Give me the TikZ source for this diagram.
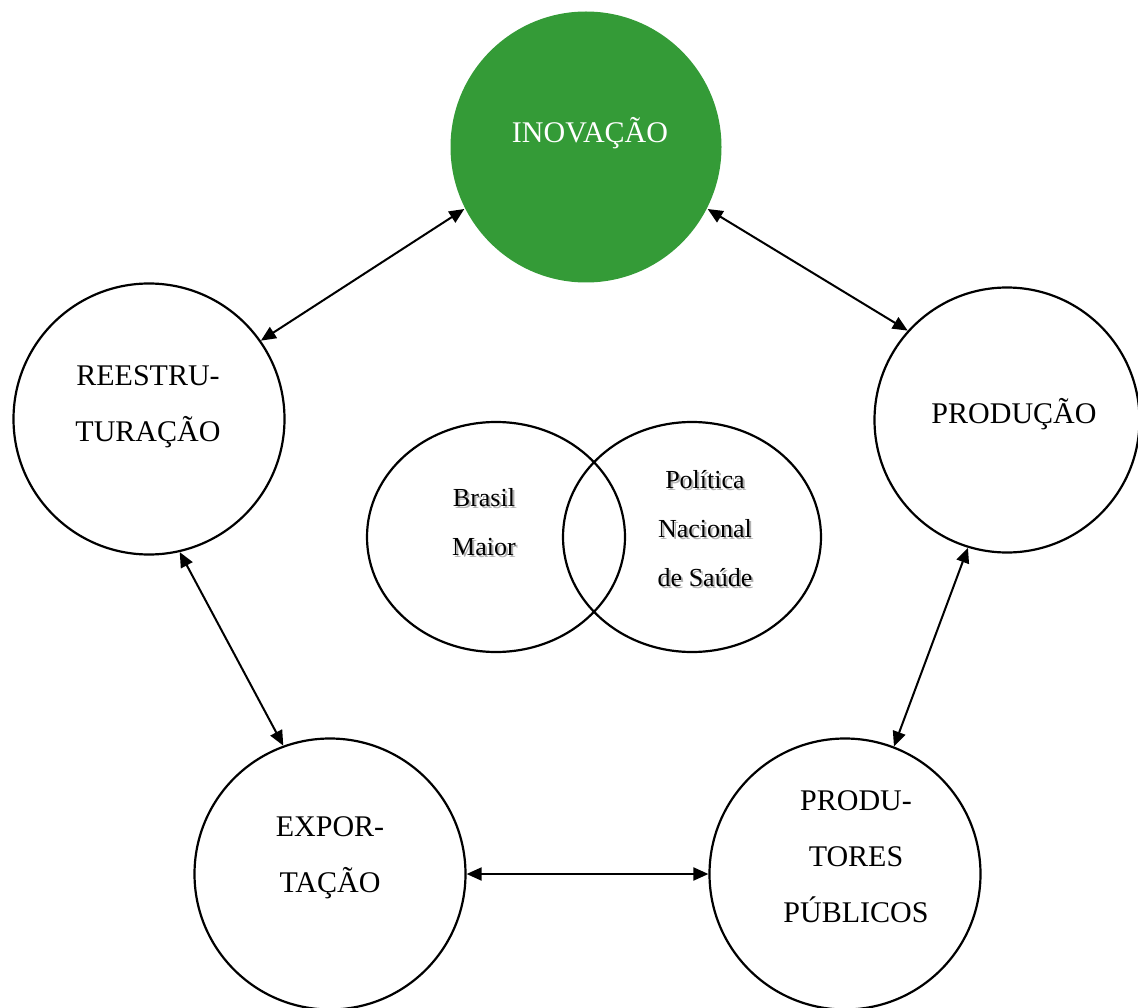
\documentclass[tikz,border=0pt]{standalone}
\usepackage{fontspec}
\setmainfont{Liberation Serif}
\usetikzlibrary{arrows.meta,shapes.geometric}
\definecolor{inovgreen}{HTML}{349B37}
\begin{document}
\begin{tikzpicture}[x=1pt,y=-1pt,
  ring/.style={circle,draw,line width=2.2pt,minimum size=271pt,inner sep=0pt},
  vennring/.style={ellipse,draw,line width=2.2pt,minimum width=258pt,minimum height=230pt,inner sep=0pt},
  lbl/.style={font=\fontsize{30}{56}\selectfont,align=center,inner sep=0pt},
  vlbl/.style={font=\fontsize{26}{49}\selectfont,align=center,inner sep=0pt},
  shade/.style={vlbl,text=black!30},
  conn/.style={line width=2pt,{Triangle[length=15pt,width=13pt]}-{Triangle[length=15pt,width=13pt]}}]
\useasboundingbox (0,0) rectangle (1138,1008);
% circles
\node[ring,draw=none,fill=inovgreen] (inov) at (586,147) {};
\node[ring] (reestr) at (149,419) {};
\node[ring,minimum size=265pt] (prod) at (1007,420) {};
\node[ring] (expo) at (330,874) {};
\node[ring] (prodpub) at (845,874) {};
% venn
\node[vennring] (bm) at (496,537) {};
\node[vennring] (pns) at (692,537) {};
% labels
\node[lbl,text=white] (tinov) at (590,133) {INOVAÇÃO};
\node[lbl] (treestr) at (148,407) {REESTRU-\\TURAÇÃO};
\node[lbl] (tprod) at (1014,414) {PRODUÇÃO};
\node[lbl] (texpo) at (330,858) {EXPOR-\\TAÇÃO};
\node[lbl] (tprodpub) at (856,857) {PRODU-\\TORES\\PÚBLICOS};
\node[shade] (tbms) at (486,524) {Brasil\\Maior};
\node[vlbl] (tbm) at (484,522) {Brasil\\Maior};
\node[shade] (tpnss) at (707,531) {Política\\Nacional\\de Saúde};
\node[vlbl] (tpns) at (705,529) {Política\\Nacional\\de Saúde};
% connectors
\draw[conn] (inov.207) -- (reestr.35);
\draw[conn] (inov.333) -- (prod.138);
\draw[conn] (reestr.283) -- (expo.110);
\draw[conn] (prod.253) -- (prodpub.69);
\draw[conn] (expo.0) -- (prodpub.180);
\end{tikzpicture}
\end{document}
